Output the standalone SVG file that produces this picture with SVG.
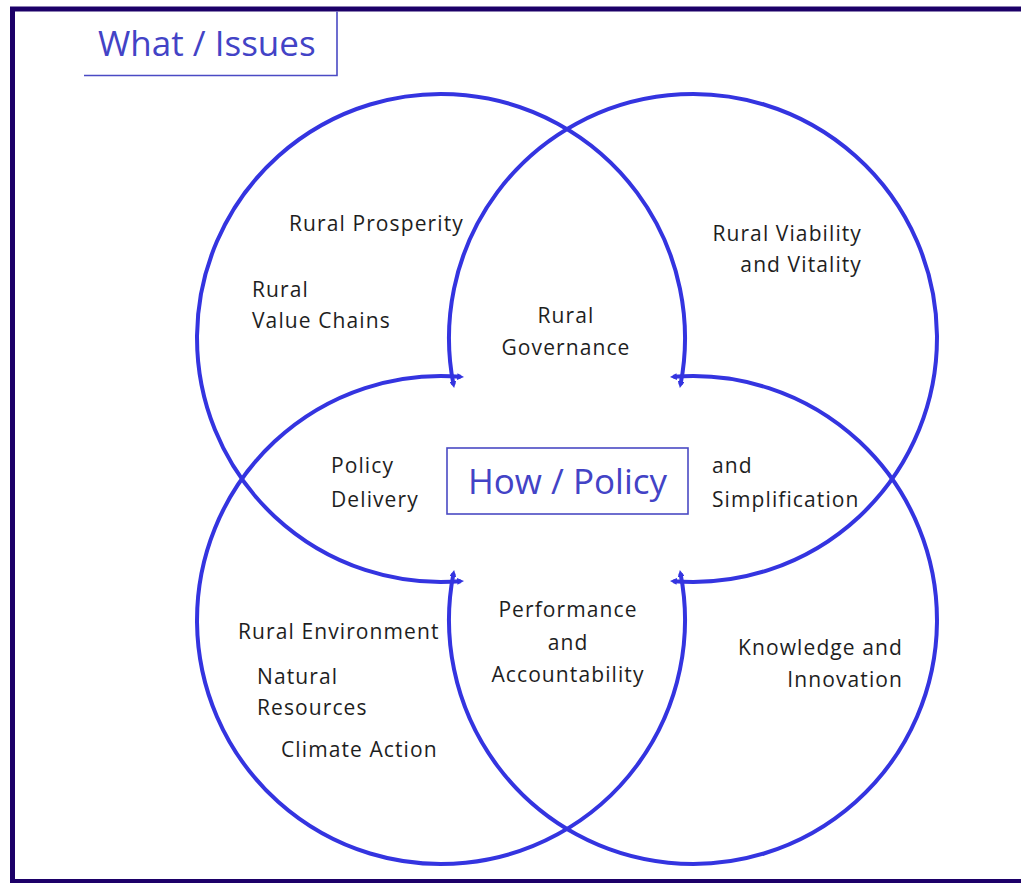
<svg xmlns="http://www.w3.org/2000/svg" width="1021" height="883" viewBox="0 0 1021 883">
  <style>
    .lbl { font-family: "Open Sans", "Liberation Sans", sans-serif; font-size: 21px; fill: #1e1e1e; letter-spacing: 1.1px; }
    .title { font-family: "Open Sans", "Liberation Sans", sans-serif; font-size: 35px; fill: #4343c6; }
    .arc { fill: none; stroke: #3434e0; stroke-width: 4; marker-start: url(#tip); marker-end: url(#tip); }
    .box { fill: #ffffff; stroke: #4a4ac4; stroke-width: 1.6; }
  </style>
  <defs>
    <marker id="tip" viewBox="0 0 8 8" refX="4" refY="4" markerWidth="1.7" markerHeight="1.7" orient="auto-start-reverse">
      <path d="M0,0 L8,4 L0,8 z" fill="#3434e0"/>
    </marker>
  </defs>
  <rect x="0" y="0" width="1021" height="883" fill="#ffffff"/>
  <rect id="frame" x="12.5" y="9" width="1030" height="872.5" fill="none" stroke="#1c0068" stroke-width="5"/>

  <g id="what-issues">
    <path d="M84,75.5 H337 V11.5" fill="none" stroke="#4a4ac4" stroke-width="1.6"/>
    <text class="title" x="98" y="56">What / Issues</text>
  </g>

  <g id="connectors">
    <path id="circle-tl" class="arc" d="M680.5,384.7 A244,244 0 1 0 460.6,581.2"/>
    <path id="circle-tr" class="arc" d="M453.5,384.7 A244,244 0 1 1 673.4,581.2"/>
    <path id="circle-bl" class="arc" d="M680.5,573.3 A244,244 0 1 1 460.6,376.8"/>
    <path id="circle-br" class="arc" d="M453.5,573.3 A244,244 0 1 0 673.4,376.8"/>
  </g>

  <g id="how-policy">
    <rect class="box" x="447" y="448" width="241" height="66"/>
    <text class="title" x="567.5" y="494" text-anchor="middle">How / Policy</text>
  </g>

  <g id="rural-prosperity">
    <text class="lbl" x="289" y="231">Rural Prosperity</text>
  </g>
  <g id="rural-value-chains">
    <text class="lbl" x="252" y="297">Rural</text>
    <text class="lbl" x="252" y="328">Value Chains</text>
  </g>
  <g id="rural-viability">
    <text class="lbl" x="862" y="241" text-anchor="end">Rural Viability</text>
    <text class="lbl" x="862" y="272" text-anchor="end">and Vitality</text>
  </g>
  <g id="rural-governance">
    <text class="lbl" x="566" y="323" text-anchor="middle">Rural</text>
    <text class="lbl" x="566" y="355" text-anchor="middle">Governance</text>
  </g>
  <g id="policy-delivery">
    <text class="lbl" x="331" y="473">Policy</text>
    <text class="lbl" x="331" y="507">Delivery</text>
  </g>
  <g id="simplification">
    <text class="lbl" x="712" y="473">and</text>
    <text class="lbl" x="712" y="507">Simplification</text>
  </g>
  <g id="performance">
    <text class="lbl" x="568" y="617" text-anchor="middle">Performance</text>
    <text class="lbl" x="568" y="650" text-anchor="middle">and</text>
    <text class="lbl" x="568" y="682" text-anchor="middle">Accountability</text>
  </g>
  <g id="rural-environment">
    <text class="lbl" x="238" y="639">Rural Environment</text>
    <text class="lbl" x="257" y="684">Natural</text>
    <text class="lbl" x="257" y="715">Resources</text>
    <text class="lbl" x="281" y="757">Climate Action</text>
  </g>
  <g id="knowledge-innovation">
    <text class="lbl" x="903" y="655" text-anchor="end">Knowledge and</text>
    <text class="lbl" x="903" y="687" text-anchor="end">Innovation</text>
  </g>
</svg>
